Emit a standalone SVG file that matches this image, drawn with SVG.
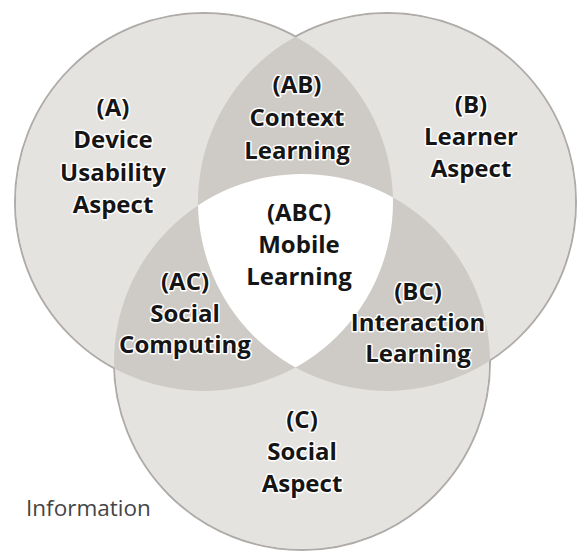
<svg xmlns="http://www.w3.org/2000/svg" width="578" height="552" viewBox="0 0 578 552">
<style>
.outline{fill:#e5e3e0;stroke:#aeaba8;stroke-width:2}
.base{fill:#e5e3e0}
.pair{fill:#cecbc7}
.core{fill:#ffffff}
.lbl{font-family:"Open Sans","Noto Sans","DejaVu Sans",sans-serif;font-weight:700;font-size:24px;fill:#151515;text-anchor:middle;stroke:#ffffff;stroke-width:3px;stroke-linejoin:round;paint-order:stroke}
.info{font-family:"Open Sans","Noto Sans","DejaVu Sans",sans-serif;font-size:22.5px;fill:#454545}
</style>
<defs>
<clipPath id="clipA"><circle cx="204" cy="202" r="189"/></clipPath>
<clipPath id="clipB"><circle cx="387" cy="202" r="189"/></clipPath>
<clipPath id="clipC"><circle cx="302" cy="362" r="188"/></clipPath>
</defs>
<rect width="578" height="552" fill="#ffffff"/>
<g id="circles">
<circle class="outline" cx="204" cy="202" r="189"/>
<circle class="outline" cx="387" cy="202" r="189"/>
<circle class="outline" cx="302" cy="362" r="188"/>
<circle class="base" cx="204" cy="202" r="188"/>
<circle class="base" cx="387" cy="202" r="188"/>
<circle class="base" cx="302" cy="362" r="187"/>
<circle class="pair" cx="387" cy="202" r="189" clip-path="url(#clipA)"/>
<circle class="pair" cx="302" cy="362" r="188" clip-path="url(#clipA)"/>
<circle class="pair" cx="302" cy="362" r="188" clip-path="url(#clipB)"/>
<g clip-path="url(#clipA)"><circle class="core" cx="387" cy="202" r="189" clip-path="url(#clipC)"/></g>
</g>
<g id="connectors"/>
<g id="node-A"><text class="lbl" x="113" y="116">(A)</text><text class="lbl" x="113" y="148">Device</text><text class="lbl" x="113" y="181">Usability</text><text class="lbl" x="113" y="213">Aspect</text></g>
<g id="node-AB"><text class="lbl" x="297" y="93">(AB)</text><text class="lbl" x="297" y="126">Context</text><text class="lbl" x="297" y="159">Learning</text></g>
<g id="node-B"><text class="lbl" x="471" y="113">(B)</text><text class="lbl" x="471" y="145">Learner</text><text class="lbl" x="471" y="177">Aspect</text></g>
<g id="node-ABC"><text class="lbl" x="299" y="221">(ABC)</text><text class="lbl" x="299" y="253">Mobile</text><text class="lbl" x="299" y="285">Learning</text></g>
<g id="node-AC"><text class="lbl" x="185" y="290">(AC)</text><text class="lbl" x="185" y="322">Social</text><text class="lbl" x="185" y="353">Computing</text></g>
<g id="node-BC"><text class="lbl" x="418" y="300">(BC)</text><text class="lbl" x="418" y="331">Interaction</text><text class="lbl" x="418" y="362">Learning</text></g>
<g id="node-C"><text class="lbl" x="302" y="428">(C)</text><text class="lbl" x="302" y="460">Social</text><text class="lbl" x="302" y="492">Aspect</text></g>
<g id="note"><text class="info" x="26" y="516">Information</text></g>
</svg>
